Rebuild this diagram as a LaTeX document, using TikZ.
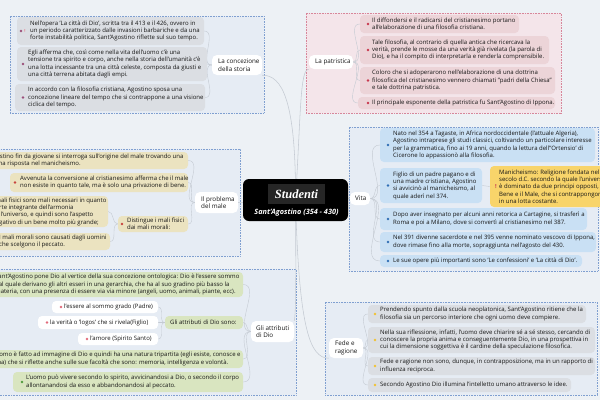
\documentclass[tikz,border=0pt]{standalone}
\usepackage{fontspec}
\setmainfont{Open Sans}
\newfontfamily\titlefont{Liberation Serif}
\usetikzlibrary{fit}
\pgfdeclarelayer{grp}
\pgfdeclarelayer{conn}
\pgfsetlayers{grp,conn,main}
\definecolor{bgc}{HTML}{EDF1F5}
\definecolor{txtc}{HTML}{151515}
\definecolor{gfill}{HTML}{E6ECF4}
\definecolor{gdraw}{HTML}{7F9FD0}
\definecolor{gpfill}{HTML}{F4E5EA}
\definecolor{gpdraw}{HTML}{D7869A}
\definecolor{itA}{HTML}{DBDEE3}
\definecolor{itB}{HTML}{ECD4D8}
\definecolor{itC}{HTML}{EBE3C0}
\definecolor{itD}{HTML}{C9E0F4}
\definecolor{itE}{HTML}{D9E5C0}
\definecolor{itM}{HTML}{F8D46A}
\definecolor{dotA}{HTML}{9B4F7A}
\definecolor{dotB}{HTML}{C8374E}
\definecolor{dotC}{HTML}{C8443E}
\definecolor{dotD}{HTML}{2F6EB5}
\definecolor{dotE}{HTML}{4E9B3B}
\definecolor{dotW}{HTML}{E26A7A}
\definecolor{dotF}{HTML}{F2C230}
\definecolor{connc}{HTML}{C4CAD2}
\tikzset{
  txt/.style={font=\fontsize{6.0}{7.3}\selectfont, align=left, inner sep=0pt, text=txtc},
  ttxt/.style={font=\fontsize{6.3}{7.5}\selectfont, align=left, inner sep=0pt, text=txtc},
  itembox/.style={rounded corners=4pt, inner sep=0pt, draw=none},
  itemA/.style={itembox, fill=itA},
  itemB/.style={itembox, fill=itB},
  itemC/.style={itembox, fill=itC},
  itemD/.style={itembox, fill=itD},
  itemE/.style={itembox, fill=itE},
  itemW/.style={itembox, fill=white},
  itemM/.style={itembox, fill=itM},
  topicbox/.style={rounded corners=5pt, fill=white, inner sep=0pt},
  grpbox/.style={inner sep=0pt, line width=0.6pt, dash pattern=on 0.7pt off 0.9pt},
  tconn/.style={draw=connc, line width=0.55pt},
  iconn/.style={draw=connc, line width=0.4pt},
}
% name, style, x0, y0, x1, y1, dot x, text x, text
\newcommand\mmitem[9]{%
  \node[#2, fit={(#3,#4) (#5,#6)}] (#1) {};
  \fill[dotc] (#7,{(#4+#6)/2}) circle (1.3pt);
  \node[txt, anchor=west] (#1t) at (#8,{(#4+#6)/2}) {#9};
}
% name, x0, y0, x1, y1, text x, text
\newcommand\mmtopic[7]{%
  \node[topicbox, fit={(#2,#3) (#4,#5)}] (#1) {};
  \node[ttxt, anchor=west] (#1t) at (#6,{(#3+#5)/2}) {#7};
}
\begin{document}
\begin{tikzpicture}[x=1pt,y=-1pt]
\useasboundingbox (0,0) rectangle (600,400);
\begin{pgfonlayer}{grp}
  \fill[bgc] (0,0) rectangle (600,400);
  \node[grpbox, draw=gdraw, fill=gfill, fit={(10,16) (264,113)}] (gA) {};
  \node[grpbox, draw=gpdraw, fill=gpfill, fit={(306,13) (561,113)}] (gB) {};
  \node[grpbox, draw=gdraw, fill=gfill, fit={(-5,149) (240,256)}] (gC) {};
  \node[grpbox, draw=gdraw, fill=gfill, fit={(349,127) (598,271)}] (gD) {};
  \node[grpbox, draw=gdraw, fill=gfill, fit={(-5,269) (296,395)}] (gE) {};
  \node[grpbox, draw=gdraw, fill=gfill, fit={(325,302) (597,395)}] (gF) {};
\end{pgfonlayer}

% ---------- central topic
\node[fill=black, rounded corners=6pt, inner sep=0pt, fit={(243,179) (348,221)}] (root) {};
\node[fill=black!85, inner sep=0pt, minimum width=57pt, minimum height=20pt, text=white,
      font=\titlefont\bfseries\itshape\fontsize{12.5}{13}\selectfont] (rootlbl) at (296.5,194) {Studenti};
\node[text=white, inner sep=0pt, font=\bfseries\itshape\fontsize{7.3}{8}\selectfont] (rootsub) at (296.5,213) {Sant'Agostino (354 - 430)};

% ---------- La concezione della storia
\colorlet{dotc}{dotA}
\mmtopic{tA}{212}{55}{262}{75}{218}{La concezione\\della storia}
\mmitem{a1}{itemA}{17}{17}{204}{45}{21}{30}{Nell'opera 'La città di Dio', scritta tra il 413 e il 426, ovvero in\\un periodo caratterizzato dalle invasioni barbariche e da una\\forte instabilità politica, Sant'Agostino riflette sul suo tempo.}
\node[font=\bfseries\fontsize{4}{4}\selectfont, text=dotW, inner sep=0pt] (a1i) at (25,31) {!};
\mmitem{a2}{itemA}{17}{47}{207}{81}{23}{28}{Egli afferma che, così come nella vita dell'uomo c'è una\\tensione tra spirito e corpo, anche nella storia dell'umanità c'è\\una lotta incessante tra una città celeste, composta da giusti e\\una città terrena abitata dagli empi.}
\mmitem{a3}{itemA}{15}{84}{205}{111}{23}{28}{In accordo con la filosofia cristiana, Agostino sposa una\\concezione lineare del tempo che si contrappone a una visione\\ciclica del tempo.}

% ---------- La patristica
\colorlet{dotc}{dotB}
\mmtopic{tB}{309}{55}{353}{69}{315}{La patristica}
\mmitem{b1}{itemB}{360}{15}{519}{33}{368}{372}{Il diffondersi e il radicarsi del cristianesimo portano\\all'elaborazione di una filosofia cristiana.}
\mmitem{b2}{itemB}{360}{36}{549}{64}{368}{372}{Tale filosofia, al contrario di quella antica che ricercava la\\verità, prende le mosse da una verità già rivelata (la parola di\\Dio), e ha il compito di interpretarla e renderla comprensibile.}
\mmitem{b3}{itemB}{360}{67}{555}{94}{368}{372}{Coloro che si adoperarono nell'elaborazione di una dottrina\\filosofica del cristianesimo vennero chiamati "padri della Chiesa"\\e tale dottrina patristica.}
\mmitem{b4}{itemB}{358}{97}{555}{109}{368}{372}{Il principale esponente della patristica fu Sant'Agostino di Ippona.}

% ---------- Il problema del male
\colorlet{dotc}{dotC}
\mmtopic{tC}{195}{192}{238}{213}{201}{Il problema\\del male}
\mmitem{c1}{itemC}{-20}{152}{188}{169}{-16}{-11}{Agostino fin da giovane si interroga sull'origine del male trovando una\\prima risposta nel manicheismo.}
\mmitem{c2}{itemC}{10}{173}{188}{192}{15}{20}{Avvenuta la conversione al cristianesimo afferma che il male\\non esiste in quanto tale, ma è solo una privazione di bene.}
\mmitem{c3}{itemC}{118}{216}{188}{232}{122}{127}{Distingue i mali fisici\\dai mali morali:}
\mmitem{c3a}{itemC}{-20}{196}{108}{227}{-13}{-8}{I mali fisici sono mali necessari in quanto\\parte integrante dell'armonia\\dell'universo, e quindi sono l'aspetto\\negativo di un bene molto più grande;}
\mmitem{c3b}{itemC}{-20}{233}{110}{250}{-6}{-1}{I mali morali sono causati dagli uomini\\che scelgono il peccato.}

% ---------- Vita
\colorlet{dotc}{dotD}
\mmtopic{tD}{350}{192}{370}{205}{355}{Vita}
\mmitem{d1}{itemD}{380}{128}{595}{162}{388}{393}{Nato nel 354 a Tagaste, in Africa nordoccidentale (l'attuale Algeria),\\Agostino intraprese gli studi classici, coltivando un particolare interesse\\per la grammatica, fino ai 19 anni, quando la lettura dell'{}'Ortensio' di\\Cicerone lo appassionò alla filosofia.}
\mmitem{d2}{itemD}{380}{168}{482}{203}{388}{393}{Figlio di un padre pagano e di\\una madre cristiana, Agostino\\si avvicinò al manicheismo, al\\quale aderì nel 374.}
\node[itemM, fit={(490,166) (620,207)}] (d2a) {};
\node[font=\bfseries\fontsize{5.5}{6}\selectfont, text=dotB, inner sep=0pt] (d2ai) at (496,187) {!};
\node[txt, anchor=west] (d2at) at (499,186.5) {Manicheismo: Religione fondata nel III\\secolo d.C. secondo la quale l'universo\\è dominato da due principi opposti, il\\Bene e il Male, che si contrappongono\\in una lotta costante.};
\mmitem{d3}{itemD}{380}{208}{587}{230}{388}{393}{Dopo aver insegnato per alcuni anni retorica a Cartagine, si trasferì a\\Roma e poi a Milano, dove si convertì al cristianesimo nel 387.}
\mmitem{d4}{itemD}{380}{232}{596}{252}{388}{393}{Nel 391 divenne sacerdote e nel 395 venne nominato vescovo di Ippona,\\dove rimase fino alla morte, sopraggiunta nell'agosto del 430.}
\mmitem{d5}{itemD}{380}{255}{582}{267}{388}{393}{Le sue opere più importanti sono 'Le confessioni' e 'La città di Dio'.}

% ---------- Gli attributi di Dio
\colorlet{dotc}{dotE}
\mmtopic{tE}{251}{321}{294}{342}{256}{Gli attributi\\di Dio}
\mmitem{e1}{itemE}{-20}{272}{243}{297}{-14}{-5}{Sant'Agostino pone Dio al vertice della sua concezione ontologica: Dio è l'essere sommo\\dal quale derivano gli altri esseri in una gerarchia, che ha al suo gradino più basso la\\materia, con una presenza di essere via via minore (angeli, uomo, animali, piante, ecc).}
\node[itemE, fit={(165,316) (243,329)}] (e2) {};
\node[txt, anchor=west] (e2t) at (170,322.5) {Gli attributi di Dio sono:};
\mmitem{e3}{itemE}{-20}{350}{243}{368}{-14}{-8}{L'uomo è fatto ad immagine di Dio e quindi ha una natura tripartita (egli esiste, conosce e\\ama) che si riflette anche sulle sue facoltà che sono: memoria, intelligenza e volontà.}
\mmitem{e4}{itemE}{13}{372}{243}{392}{22}{26}{L'uomo può vivere secondo lo spirito, avvicinandosi a Dio, o secondo il corpo\\allontanandosi da esso e abbandonandosi al peccato.}
\colorlet{dotc}{dotW}
\mmitem{e2a}{itemW}{52}{301}{158}{313}{61}{64}{l'essere al sommo grado (Padre)}
\mmitem{e2b}{itemW}{38}{316}{158}{329}{47}{50}{la verità o 'logos' che si rivela(Figlio)}
\mmitem{e2c}{itemW}{78}{333}{158}{345}{87}{90}{l'amore (Spirito Santo)}

% ---------- Fede e ragione
\colorlet{dotc}{dotF}
\mmtopic{tF}{329}{338}{363}{358}{335}{Fede e\\ragione}
\mmitem{f1}{itemA}{368}{305}{586}{323}{375}{380}{Prendendo spunto dalla scuola neoplatonica, Sant'Agostino ritiene che la\\filosofia sia un percorso interiore che ogni uomo deve compiere.}
\mmitem{f2}{itemA}{368}{327}{595}{353}{375}{380}{Nella sua riflessione, infatti, l'uomo deve chiarire sé a sé stesso, cercando di\\conoscere la propria anima e conseguentemente Dio, in una prospettiva in\\cui la dimensione soggettiva è il cardine della speculazione filosofica.}
\mmitem{f3}{itemA}{368}{357}{595}{375}{375}{380}{Fede e ragione non sono, dunque, in contrapposizione, ma in un rapporto di\\influenza reciproca.}
\mmitem{f4}{itemA}{368}{378}{571}{392}{375}{380}{Secondo Agostino Dio illumina l'intelletto umano attraverso le idee.}

% ---------- connectors
\begin{pgfonlayer}{conn}
  \draw[tconn] (root.center) .. controls (296,100) and (282,75) .. (tA.south east);
  \draw[tconn] (root.center) .. controls (301,110) and (300,69) .. (tB.south west);
  \draw[tconn] (root.center) -- (tC.east);
  \draw[tconn] (root.center) -- (tD.west);
  \draw[tconn] (root.center) .. controls (296,280) and (296,315) .. (tE.north east);
  \draw[tconn] (root.center) .. controls (299,330) and (310,358) .. (tF.south west);
  \foreach \n in {a1,a2,a3} \draw[iconn] (tA.west) to[out=180,in=0] (\n.east);
  \foreach \n in {b1,b2,b3,b4} \draw[iconn] (tB.east) to[out=0,in=180] (\n.west);
  \foreach \n in {c1,c2,c3} \draw[iconn] (tC.west) to[out=180,in=0] (\n.east);
  \foreach \n in {c3a,c3b} \draw[iconn] (c3.west) to[out=180,in=0] (\n.east);
  \foreach \n in {d1,d2,d3,d4,d5} \draw[iconn] (tD.east) to[out=0,in=180] (\n.west);
  \draw[iconn] (d2.east) -- (d2a.west);
  \foreach \n in {e1,e2,e3,e4} \draw[iconn] (tE.west) to[out=180,in=0] (\n.east);
  \foreach \n in {e2a,e2b,e2c} \draw[iconn] (e2.west) to[out=180,in=0] (\n.east);
  \foreach \n in {f1,f2,f3,f4} \draw[iconn] (tF.east) to[out=0,in=180] (\n.west);
\end{pgfonlayer}
\end{tikzpicture}
\end{document}
